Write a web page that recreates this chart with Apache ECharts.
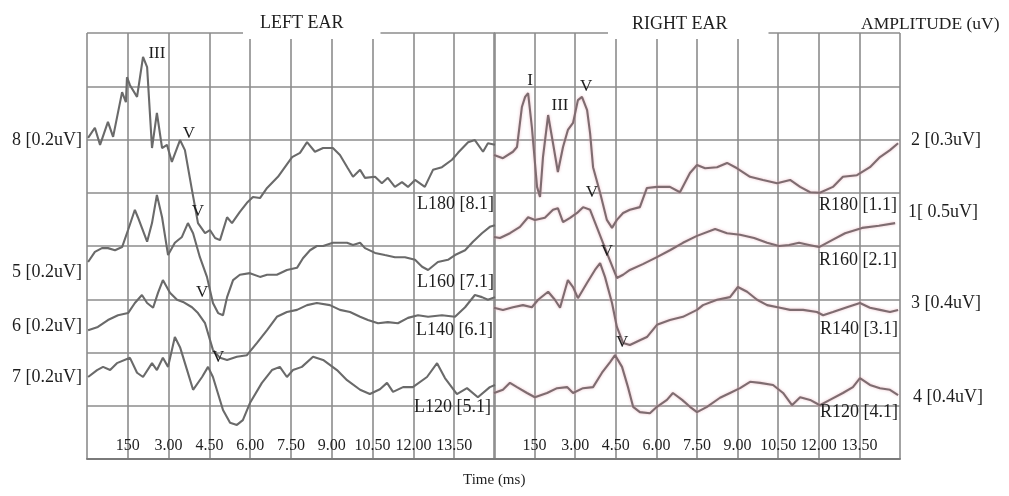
<!DOCTYPE html>
<html>
<head>
<meta charset="utf-8">
<script src="https://cdn.jsdelivr.net/npm/echarts@6/dist/echarts.min.js"></script>
<style>
html,body{margin:0;padding:0;background:#fff;}
#chart{width:1009px;height:496px;}
</style>
</head>
<body>
<div id="chart"></div>
<script>
// ---- DATA (time in ms, vertical position in grid divisions) ----
const xTickLabels = ['', '150', '3.00', '4.50', '6.00', '7.50', '9.00', '10.50', '12.00', '13.50', ''];

const L180 = [[0.04,6.03],[0.29,6.22],[0.48,5.90],[0.77,6.33],[0.96,6.05],[1.29,6.89],[1.43,6.70],[1.47,7.17],[1.58,7.02],[1.84,6.80],[2.06,7.55],[2.21,7.36],[2.39,5.84],[2.57,6.50],[2.76,5.84],[2.94,5.90],[3.12,5.58],[3.42,5.99],[3.60,5.80],[3.86,5.05],[4.08,4.43],[4.34,4.24],[4.52,4.30],[4.71,4.15],[4.89,4.11],[5.15,4.54],[5.33,4.43],[5.62,4.64],[5.88,4.81],[6.10,4.92],[6.36,4.90],[6.62,5.09],[7.02,5.30],[7.54,5.67],[7.83,5.75],[8.09,5.95],[8.38,5.77],[8.68,5.84],[9.04,5.84],[9.30,5.71],[9.59,5.46],[9.78,5.30],[10.04,5.43],[10.22,5.28],[10.59,5.30],[10.84,5.18],[11.06,5.28],[11.32,5.11],[11.58,5.20],[11.80,5.11],[12.06,5.24],[12.42,5.11],[12.72,5.43],[13.05,5.48],[13.42,5.62],[13.64,5.75],[14.01,5.95],[14.26,5.99],[14.56,5.77],[14.74,5.93],[15.0,5.90]];
const L160 = [[0.04,3.70],[0.29,3.89],[0.55,3.96],[0.77,3.96],[1.03,3.92],[1.29,3.98],[1.51,4.30],[1.76,4.68],[1.87,4.54],[2.21,4.08],[2.39,4.43],[2.57,4.96],[2.76,4.54],[2.98,3.83],[3.23,4.06],[3.49,4.17],[3.71,4.43],[3.90,4.24],[4.15,3.79],[4.41,3.42],[4.63,2.93],[4.82,2.74],[5.00,2.70],[5.15,3.04],[5.37,3.36],[5.62,3.46],[5.99,3.49],[6.36,3.42],[6.62,3.46],[6.98,3.46],[7.35,3.55],[7.72,3.59],[7.94,3.77],[8.20,3.92],[8.45,4.00],[8.68,4.00],[9.04,4.06],[9.56,4.06],[9.78,4.02],[10.04,4.06],[10.22,3.96],[10.59,3.87],[10.95,3.83],[11.32,3.79],[11.69,3.79],[12.06,3.74],[12.32,3.61],[12.54,3.55],[12.90,3.70],[13.27,3.74],[13.53,3.83],[13.90,3.92],[14.19,4.08],[14.52,4.24],[14.81,4.36],[15.0,4.39]];
const L140 = [[0.04,2.42],[0.40,2.48],[0.77,2.61],[1.14,2.70],[1.51,2.74],[1.76,2.93],[2.02,3.08],[2.21,2.93],[2.43,2.84],[2.61,3.12],[2.79,3.36],[3.05,3.12],[3.31,2.99],[3.53,2.95],[3.86,2.85],[4.08,2.74],[4.34,2.55],[4.63,2.05],[4.89,1.90],[5.15,1.86],[5.51,1.92],[5.88,1.95],[6.25,2.18],[6.62,2.42],[6.98,2.67],[7.35,2.76],[7.72,2.80],[8.09,2.89],[8.45,2.93],[8.93,2.89],[9.30,2.80],[9.67,2.76],[10.04,2.67],[10.33,2.61],[10.70,2.55],[11.06,2.57],[11.43,2.55],[11.80,2.65],[12.17,2.70],[12.54,2.67],[13.05,2.70],[13.53,2.67],[13.90,2.85],[14.26,3.08],[14.52,3.04],[14.74,2.99],[15.0,3.04]];
const L120 = [[0.04,1.54],[0.37,1.67],[0.59,1.73],[0.85,1.67],[1.10,1.80],[1.58,1.90],[1.84,1.62],[2.06,1.54],[2.39,1.80],[2.57,1.67],[2.79,1.90],[2.98,1.73],[3.23,2.29],[3.42,2.10],[3.68,1.67],[3.90,1.30],[4.23,1.54],[4.45,1.73],[4.63,1.54],[5.00,0.92],[5.26,0.68],[5.51,0.64],[5.73,0.73],[5.99,1.05],[6.43,1.43],[6.80,1.67],[7.09,1.73],[7.35,1.54],[7.57,1.67],[7.90,1.73],[8.31,1.92],[8.68,1.86],[9.19,1.67],[9.56,1.48],[10.04,1.30],[10.40,1.22],[10.77,1.31],[11.03,1.43],[11.25,1.26],[11.62,1.35],[11.98,1.35],[12.50,1.54],[12.87,1.80],[13.16,1.52],[13.60,1.22],[13.97,1.33],[14.37,1.16],[14.81,1.35],[15.0,1.39]];

const R180 = [[0.0,5.71],[0.33,5.65],[0.70,5.77],[0.85,5.86],[1.03,6.61],[1.15,6.80],[1.26,6.87],[1.40,6.23],[1.59,5.11],[1.70,4.92],[1.81,5.67],[2.00,6.46],[2.18,5.93],[2.36,5.39],[2.55,5.86],[2.73,6.18],[2.92,6.31],[3.10,6.74],[3.25,6.80],[3.44,6.55],[3.55,6.12],[3.66,5.48],[3.92,5.00],[4.17,4.49],[4.36,4.34],[4.54,4.49],[4.77,4.62],[5.02,4.68],[5.39,4.73],[5.65,5.09],[6.02,5.11],[6.50,5.11],[6.87,5.01],[7.24,5.37],[7.50,5.52],[7.80,5.46],[8.24,5.48],[8.61,5.56],[8.98,5.46],[9.46,5.30],[9.94,5.24],[10.46,5.18],[10.94,5.24],[11.31,5.11],[11.68,5.01],[12.04,5.00],[12.52,5.11],[12.89,5.30],[13.41,5.33],[13.89,5.48],[14.26,5.67],[14.63,5.80],[14.93,5.93]];
const R160 = [[0.0,4.17],[0.22,4.15],[0.59,4.24],[0.96,4.36],[1.26,4.54],[1.51,4.49],[1.88,4.53],[2.18,4.68],[2.36,4.71],[2.55,4.45],[2.81,4.53],[3.07,4.62],[3.29,4.73],[3.55,4.68],[3.81,4.34],[4.17,3.87],[4.54,3.40],[4.77,3.46],[5.02,3.55],[5.50,3.66],[6.02,3.79],[6.50,3.92],[6.98,4.06],[7.50,4.19],[8.17,4.32],[8.61,4.24],[9.09,4.21],[9.61,4.15],[10.09,4.06],[10.53,4.00],[10.90,4.02],[11.27,4.06],[11.64,4.02],[12.01,3.98],[12.49,4.11],[12.97,4.24],[13.60,4.34],[14.22,4.38],[14.82,4.43]];
const R140 = [[0.0,2.84],[0.33,2.80],[0.70,2.85],[1.07,2.89],[1.40,2.85],[1.63,2.99],[2.00,3.14],[2.25,2.99],[2.44,2.84],[2.73,3.36],[2.92,3.23],[3.10,3.02],[3.44,3.31],[3.73,3.55],[3.92,3.68],[4.10,3.42],[4.36,2.93],[4.54,2.48],[4.77,2.18],[5.02,2.14],[5.39,2.23],[5.65,2.29],[6.02,2.52],[6.50,2.61],[6.98,2.67],[7.50,2.80],[7.72,2.89],[8.24,2.99],[8.72,3.04],[9.01,3.23],[9.35,3.14],[9.72,2.99],[10.09,2.89],[10.57,2.84],[10.94,2.80],[11.42,2.80],[11.93,2.76],[12.16,2.70],[12.52,2.76],[13.04,2.85],[13.52,2.93],[13.89,2.84],[14.26,2.80],[14.63,2.76],[14.93,2.80]];
const R120 = [[0.0,1.24],[0.33,1.30],[0.59,1.43],[0.85,1.35],[1.22,1.24],[1.51,1.16],[1.96,1.24],[2.33,1.33],[2.70,1.35],[2.92,1.24],[3.29,1.33],[3.66,1.35],[3.99,1.62],[4.29,1.82],[4.47,1.95],[4.73,1.73],[4.95,1.35],[5.14,0.98],[5.39,0.88],[5.76,0.86],[6.02,0.98],[6.39,1.11],[6.61,1.24],[6.95,1.11],[7.24,0.98],[7.50,0.88],[7.87,0.98],[8.35,1.15],[8.72,1.24],[9.09,1.33],[9.46,1.45],[9.83,1.43],[10.31,1.39],[10.68,1.24],[11.01,1.01],[11.31,1.16],[11.68,1.11],[12.04,1.01],[12.41,1.11],[12.89,1.24],[13.26,1.35],[13.52,1.52],[13.89,1.39],[14.26,1.33],[14.63,1.30],[14.93,1.20]];

// ---- STYLE / LAYOUT ----
const FONT = '"Liberation Serif", "Times New Roman", serif';
const TXT = '#1e1e1e';
const GRIDC = '#8c8c8c';
const LEFT_C = '#6a6a6a';
const RIGHT_C = '#7e6c70';
const RIGHT_GLOW = 'rgba(232,170,182,0.75)';

// peak annotations: [text, time, division]
const peaks = {
  L180: [['III', 2.57, 7.62], ['V', 3.75, 6.12]],
  L160: [['V', 4.08, 4.64]],
  L140: [['V', 4.23, 3.12]],
  L120: [['V', 4.82, 1.90]],
  R180: [['I', 1.33, 7.10], ['III', 2.44, 6.63], ['V', 3.40, 6.99]],
  R160: [['V', 3.62, 5.00]],
  R140: [['V', 4.17, 3.89]],
  R120: [['V', 4.73, 2.18]]
};

function xAxisCfg(gi) {
  return {
    type: 'value', gridIndex: gi, min: 0, max: 15, interval: 1.5,
    axisLine: { show: true, onZero: false, lineStyle: { color: '#7a7a7a', width: 2 } },
    axisTick: { show: false },
    axisLabel: {
      show: true, inside: true, margin: 5, fontSize: 16, fontFamily: FONT, color: TXT,
      formatter: v => xTickLabels[Math.round(v / 1.5)] || ''
    },
    splitLine: { show: true, lineStyle: { color: GRIDC, width: 1.6 } }
  };
}
function yAxisCfg(gi) {
  return {
    type: 'value', gridIndex: gi, min: 0, max: 8, interval: 1,
    axisLine: { show: false }, axisTick: { show: false }, axisLabel: { show: false },
    splitLine: { show: true, lineStyle: { color: GRIDC, width: 1.6 } }
  };
}

function traceSeries(name, data, gi, color, shadow) {
  return {
    name, type: 'line', xAxisIndex: gi, yAxisIndex: gi, data,
    showSymbol: false, symbol: 'none', smooth: false, silent: true,
    lineStyle: { color, width: 2.1, shadowColor: shadow || 'rgba(0,0,0,0)', shadowBlur: shadow ? 3 : 0 },
    markPoint: {
      symbol: 'rect', symbolSize: 1, silent: true,
      itemStyle: { color: 'rgba(0,0,0,0)' },
      label: { show: true, position: 'inside', formatter: '{b}', fontFamily: FONT, fontSize: 17, color: TXT },
      data: (peaks[name] || []).map(p => ({ name: p[0], coord: [p[1], p[2]] }))
    },
    z: 3
  };
}

function label(text, x, y, align, size) {
  return {
    type: 'text', x, y, z: 10,
    style: { text, font: (size || 18) + 'px ' + FONT, fill: TXT,
             align, verticalAlign: 'middle', textAlign: align, textVerticalAlign: 'middle' }
  };
}

const titleStyle = { fontFamily: FONT, fontSize: 18, fontWeight: 'normal', color: TXT, lineHeight: 20 };

const option = {
  backgroundColor: '#ffffff',
  animation: false,
  title: [
    { text: 'LEFT EAR', left: 243, top: 10, padding: [3, 37, 6, 17], backgroundColor: '#ffffff', textStyle: titleStyle },
    { text: 'RIGHT EAR', left: 608, top: 11, padding: [3, 41, 5, 24], backgroundColor: '#ffffff', textStyle: titleStyle },
    { text: 'AMPLITUDE (uV)', left: 861, top: 14, padding: 0, textStyle: Object.assign({}, titleStyle, { fontSize: 17.5 }) },
    { text: 'Time (ms)', left: 463, top: 471, padding: 0, textStyle: Object.assign({}, titleStyle, { fontSize: 15, lineHeight: 18 }) }
  ],
  grid: [
    { left: 87, top: 33, width: 408, height: 426 },
    { left: 494, top: 33, width: 406, height: 426 }
  ],
  xAxis: [xAxisCfg(0), xAxisCfg(1)],
  yAxis: [yAxisCfg(0), yAxisCfg(1)],
  series: [
    traceSeries('L180', L180, 0, LEFT_C, null),
    traceSeries('L160', L160, 0, LEFT_C, null),
    traceSeries('L140', L140, 0, LEFT_C, null),
    traceSeries('L120', L120, 0, LEFT_C, null),
    traceSeries('R180', R180, 1, RIGHT_C, RIGHT_GLOW),
    traceSeries('R160', R160, 1, RIGHT_C, RIGHT_GLOW),
    traceSeries('R140', R140, 1, RIGHT_C, RIGHT_GLOW),
    traceSeries('R120', R120, 1, RIGHT_C, RIGHT_GLOW)
  ],
  graphic: [
    label('8 [0.2uV]', 82, 140, 'right'),
    label('5 [0.2uV]', 82, 272, 'right'),
    label('6 [0.2uV]', 82, 326, 'right'),
    label('7 [0.2uV]', 82, 377, 'right'),
    label('2 [0.3uV]', 911, 140, 'left'),
    label('1[ 0.5uV]', 908, 212, 'left'),
    label('3 [0.4uV]', 911, 303, 'left'),
    label('4 [0.4uV]', 913, 397, 'left'),
    label('L180 [8.1]', 494, 204, 'right'),
    label('L160 [7.1]', 494, 282, 'right'),
    label('L140 [6.1]', 493, 330, 'right'),
    label('L120 [5.1]', 491, 407, 'right'),
    label('R180 [1.1]', 897, 205, 'right'),
    label('R160 [2.1]', 897, 260, 'right'),
    label('R140 [3.1]', 898, 329, 'right'),
    label('R120 [4.1]', 898, 412, 'right')
  ]
};

const chart = echarts.init(document.getElementById('chart'), null, { renderer: 'canvas' });
chart.setOption(option);
</script>
</body>
</html>
